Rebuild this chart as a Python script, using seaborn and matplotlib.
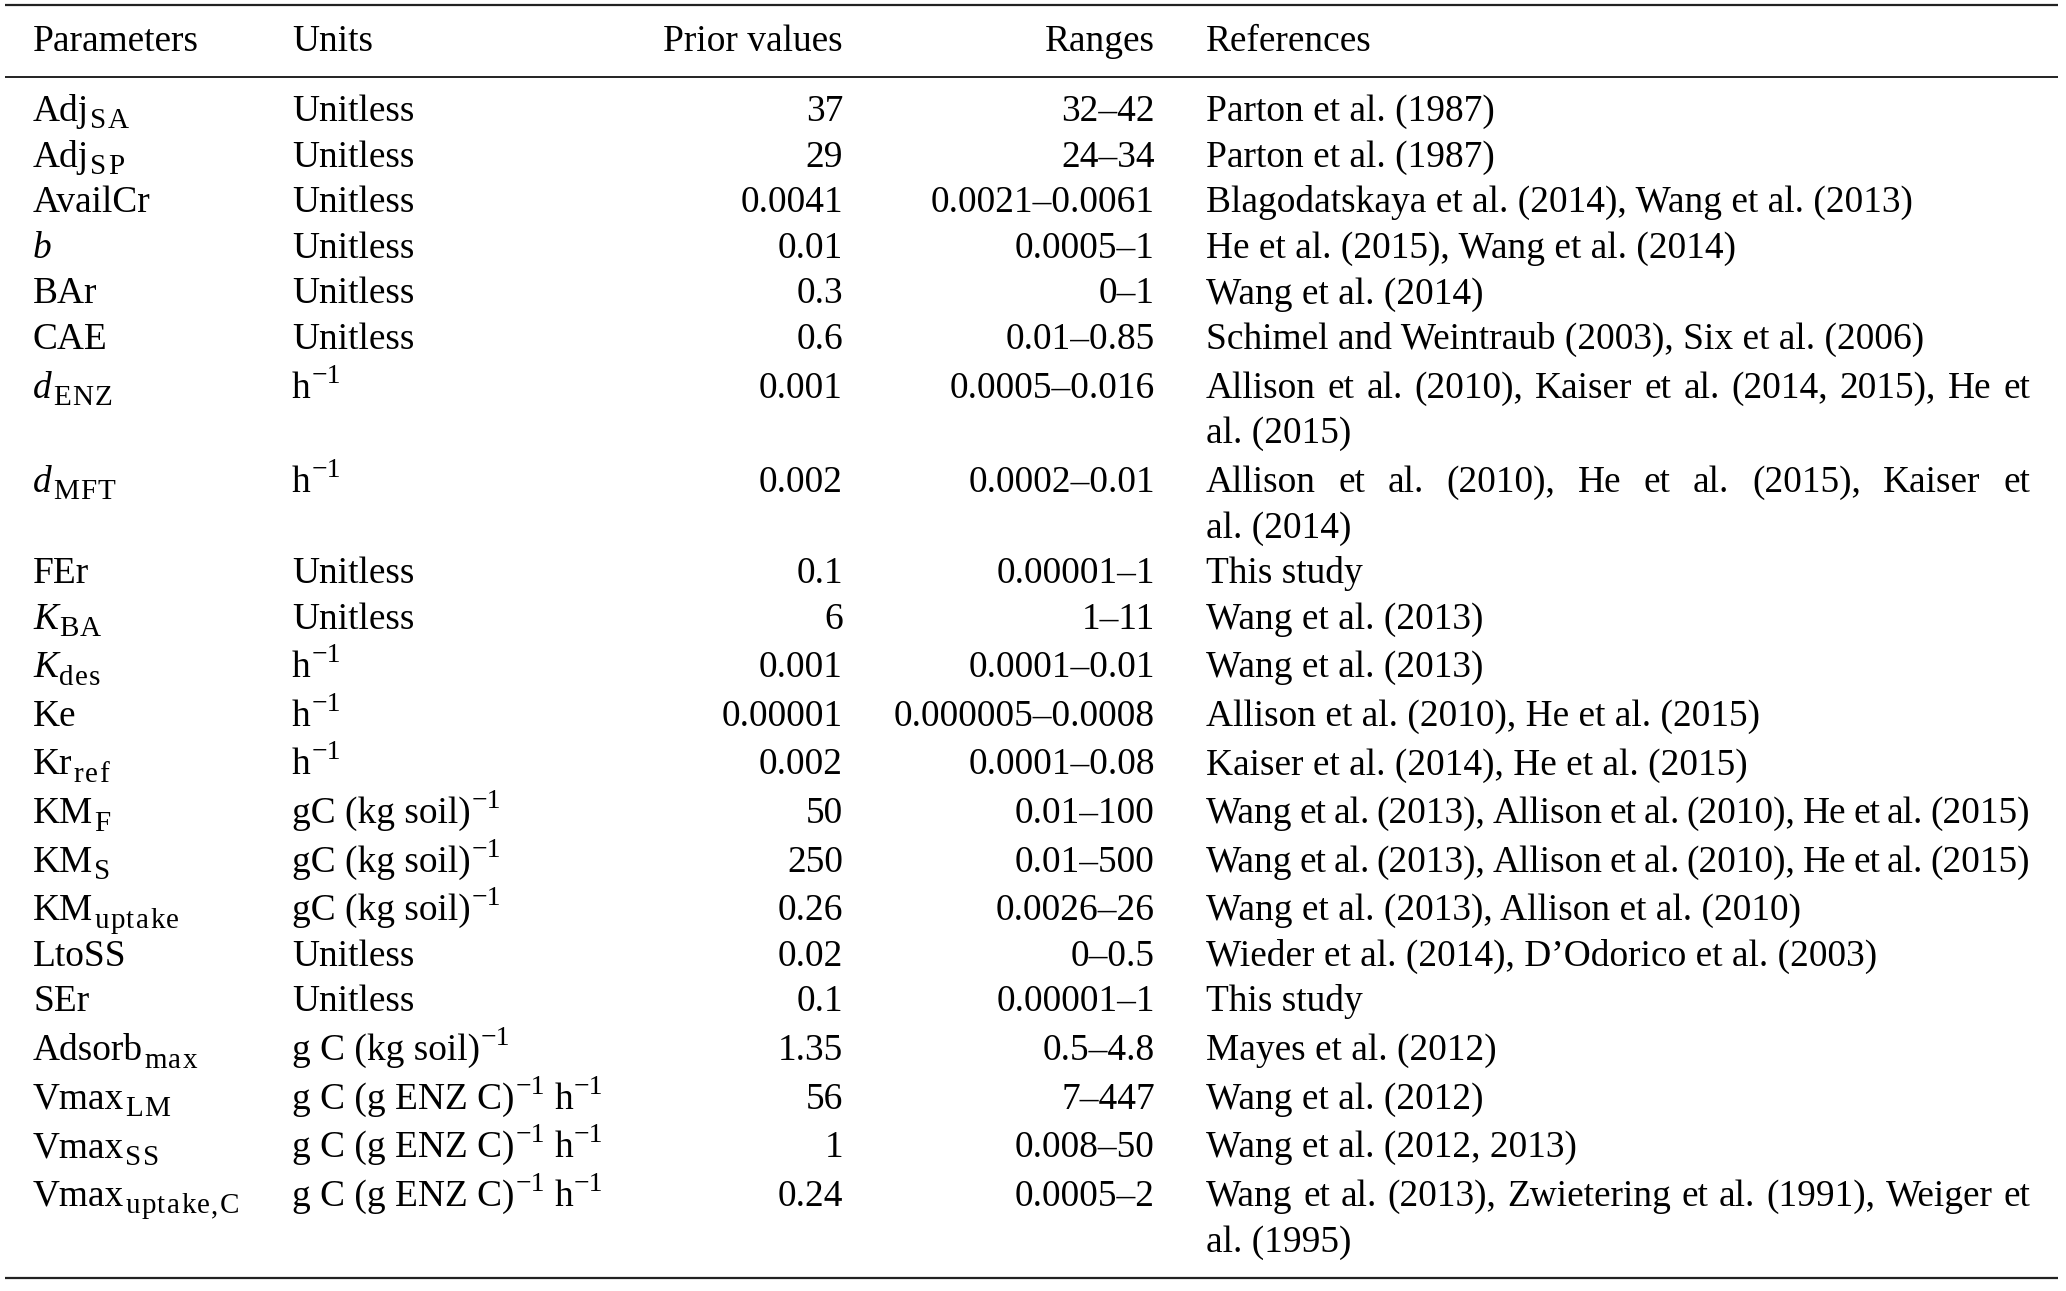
import re
import matplotlib
matplotlib.use("Agg")
import matplotlib.pyplot as plt
import seaborn as sns

# ---------------- data ----------------
# markup: _{..} subscript, ^{..} superscript, *..* italic
headers = ["Parameters", "Units", "Prior values", "Ranges", "References"]

parameters = [
    "Adj_{SA}", "Adj_{SP}", "AvailCr", "*b*", "BAr", "CAE",
    "*d*_{ENZ}", "*d*_{MFT}", "FEr", "*K*_{BA}",
    "*K*_{des}", "Ke", "Kr_{ref}", "KM_{F}",
    "KM_{S}", "KM_{uptake}", "LtoSS", "SEr",
    "Adsorb_{max}", "Vmax_{LM}", "Vmax_{SS}",
    "Vmax_{uptake,C}",
]

H = "h^{−1}"
GC = "gC (kg soil)^{−1}"
GC2 = "g C (kg soil)^{−1}"
GE = "g C (g ENZ C)^{−1} h^{−1}"
units = [
    "Unitless", "Unitless", "Unitless", "Unitless", "Unitless", "Unitless",
    H, H, "Unitless", "Unitless", H, H, H, GC, GC, GC, "Unitless", "Unitless",
    GC2, GE, GE, GE,
]

prior_values = [
    "37", "29", "0.0041", "0.01", "0.3", "0.6", "0.001", "0.002", "0.1", "6",
    "0.001", "0.00001", "0.002", "50", "250", "0.26", "0.02", "0.1", "1.35",
    "56", "1", "0.24",
]

ranges = [
    "32–42", "24–34", "0.0021–0.0061", "0.0005–1", "0–1", "0.01–0.85",
    "0.0005–0.016", "0.0002–0.01", "0.00001–1", "1–11", "0.0001–0.01",
    "0.000005–0.0008", "0.0001–0.08", "0.01–100", "0.01–500", "0.0026–26",
    "0–0.5", "0.00001–1", "0.5–4.8", "7–447", "0.008–50", "0.0005–2",
]

references = [
    ["Parton et al. (1987)"],
    ["Parton et al. (1987)"],
    ["Blagodatskaya et al. (2014), Wang et al. (2013)"],
    ["He et al. (2015), Wang et al. (2014)"],
    ["Wang et al. (2014)"],
    ["Schimel and Weintraub (2003), Six et al. (2006)"],
    ["Allison et al. (2010), Kaiser et al. (2014, 2015), He et", "al. (2015)"],
    ["Allison et al. (2010), He et al. (2015), Kaiser et", "al. (2014)"],
    ["This study"],
    ["Wang et al. (2013)"],
    ["Wang et al. (2013)"],
    ["Allison et al. (2010), He et al. (2015)"],
    ["Kaiser et al. (2014), He et al. (2015)"],
    ["Wang et al. (2013), Allison et al. (2010), He et al. (2015)"],
    ["Wang et al. (2013), Allison et al. (2010), He et al. (2015)"],
    ["Wang et al. (2013), Allison et al. (2010)"],
    ["Wieder et al. (2014), D’Odorico et al. (2003)"],
    ["This study"],
    ["Mayes et al. (2012)"],
    ["Wang et al. (2012)"],
    ["Wang et al. (2012, 2013)"],
    ["Wang et al. (2013), Zwietering et al. (1991), Weiger et", "al. (1995)"],
]

# ---------------- style ----------------
sns.set_theme(style="white")
FONT = "Liberation Serif"
plt.rcParams["font.family"] = [FONT, "DejaVu Serif"]
FS = 26.9
SUB, SUP = 0.78, 0.74            # relative sizes
SUB_DROP, SUP_RAISE = 7.5, 15.0  # px
SUB_TRACK = 1.4                  # extra px between subscript letters

W, Hh = 2066, 1291
fig = plt.figure(figsize=(W / 100, Hh / 100), dpi=100)
ax = fig.add_axes([0, 0, 1, 1])
ax.set_xlim(0, W)
ax.set_ylim(Hh, 0)
ax.axis("off")
fig.canvas.draw()
renderer = fig.canvas.get_renderer()

X_PARAM, X_UNIT, X_PRIOR_R, X_RANGE_R, X_REF, X_REF_R = 33, 292, 843, 1155, 1206, 2030
RULE_L, RULE_R = 5, 2058
kw = dict(color="black", va="baseline")


def text_width(s, size=FS, style="normal"):
    t = ax.text(0, 0, s, fontsize=size, fontstyle=style, **kw)
    w = t.get_window_extent(renderer).width
    t.remove()
    return w


def space_width(size=FS):
    return text_width("a a", size) - text_width("aa", size)


def put(x, y, s, size=FS, style="normal", track=0.0):
    """draw s with left edge x; return advance"""
    lead = len(s) - len(s.lstrip(" "))
    trail = len(s) - len(s.rstrip(" "))
    core = s.strip(" ")
    sw = space_width(size)
    x += lead * sw
    if core:
        if track:
            for ch in core:
                ax.text(x, y, ch, fontsize=size, fontstyle=style, ha="left", **kw)
                x += text_width(ch, size, style) + track
            x -= track
        else:
            ax.text(x, y, core, fontsize=size, fontstyle=style, ha="left", **kw)
            x += text_width(core, size, style)
    x += trail * sw
    return x


def rich(x, y, s):
    parts = re.split(r"(_\{[^}]*\}|\^\{[^}]*\}|\*[^*]*\*)", s)
    for part in parts:
        if not part:
            continue
        if part.startswith("_{"):
            x = put(x + 1, y + SUB_DROP, part[2:-1], FS * SUB, track=SUB_TRACK)
        elif part.startswith("^{"):
            x = put(x + 1, y - SUP_RAISE, part[2:-1], FS * SUP)
        elif part.startswith("*"):
            x = put(x, y, part[1:-1], FS, style="italic")
        else:
            x = put(x, y, part, FS)
    return x


def justified(line, y, x0, x1, force):
    words = line.split(" ")
    widths = [text_width(w) for w in words]
    natural = text_width(line)
    if len(words) < 2 or (not force and natural <= x1 - x0):
        ax.text(x0, y, line, fontsize=FS, ha="left", **kw)
        return
    gap = (x1 - x0 - sum(widths)) / (len(words) - 1)
    x = x0
    for w, wd in zip(words, widths):
        ax.text(x, y, w, fontsize=FS, ha="left", **kw)
        x += wd + gap


# rules
for yr, lw in [(5, 1.6), (77, 1.4), (1278, 1.6)]:
    ax.plot([RULE_L, RULE_R], [yr, yr], color="#222222", lw=lw, solid_capstyle="butt")

# header
yh = 51
ax.text(X_PARAM, yh, headers[0], fontsize=FS, ha="left", **kw)
ax.text(X_UNIT, yh, headers[1], fontsize=FS, ha="left", **kw)
ax.text(X_PRIOR_R, yh, headers[2], fontsize=FS, ha="right", **kw)
ax.text(X_RANGE_R, yh, headers[3], fontsize=FS, ha="right", **kw)
ax.text(X_REF, yh, headers[4], fontsize=FS, ha="left", **kw)

# body
STEP, STEP_SUP = 45.6, 48.6
y = 121 - STEP
for p, u, pv, r, refs in zip(parameters, units, prior_values, ranges, references):
    y += STEP_SUP if "^" in u else STEP
    rich(X_PARAM, y, p)
    rich(X_UNIT, y, u)
    ax.text(X_PRIOR_R, y, pv, fontsize=FS, ha="right", **kw)
    ax.text(X_RANGE_R, y, r, fontsize=FS, ha="right", **kw)
    for i, line in enumerate(refs):
        if i > 0:
            y += STEP
        justified(line, y, X_REF, X_REF_R, force=(i == 0 and len(refs) > 1))

fig.savefig("out.png", dpi=100)
